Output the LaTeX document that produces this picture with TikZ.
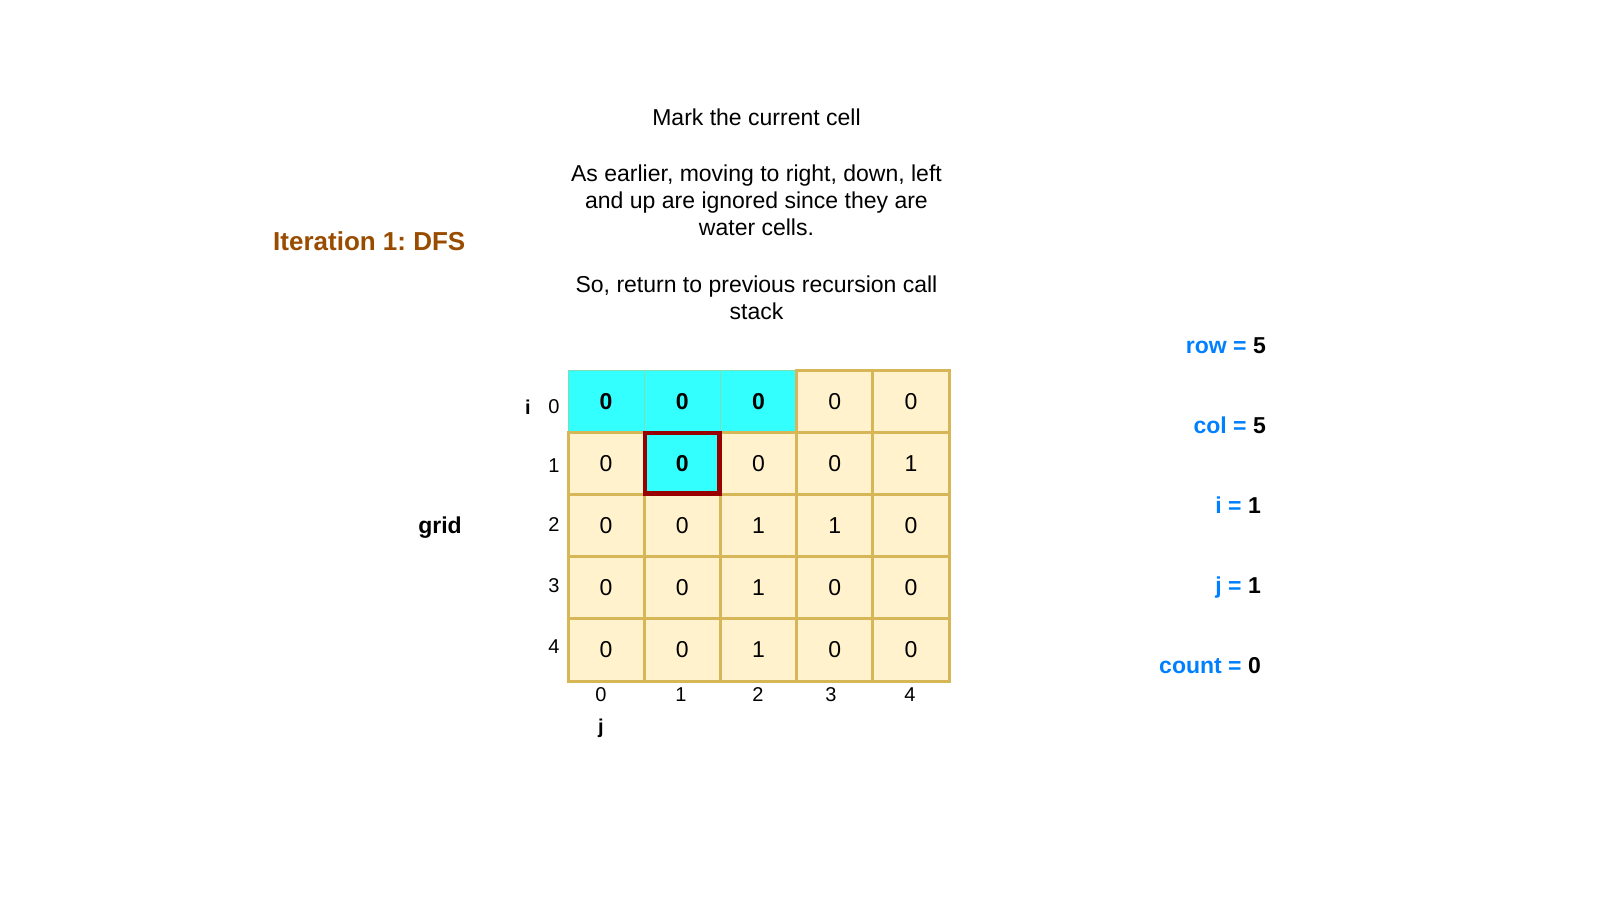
\documentclass[tikz,border=0pt]{standalone}
\usepackage{fontspec}
\setmainfont{Liberation Sans}
\frenchspacing
\definecolor{cellfill}{HTML}{FFF2CC}
\definecolor{cellline}{HTML}{D6B656}
\definecolor{visited}{HTML}{33FFFF}
\definecolor{current}{HTML}{990000}
\definecolor{varname}{HTML}{007FFF}
\definecolor{titlebrown}{HTML}{994C00}

\begin{document}
\begin{tikzpicture}[x=1pt,y=-1pt,
    cell/.style={draw=cellline,fill=cellfill,line width=3pt,minimum width=76.2pt,minimum height=62.2pt,inner sep=0pt,font=\fontsize{23}{27}\selectfont},
    seen/.style={cell,fill=visited,draw=cellline!45!visited,line width=1pt,font=\fontsize{23}{27}\selectfont\bfseries},
    idx/.style={inner sep=0pt,font=\fontsize{20}{24}\selectfont},
    var/.style={inner sep=0pt,anchor=base east,text=varname,font=\fontsize{23}{27}\selectfont\bfseries}]
  \useasboundingbox (0,0) rectangle (1600,900);
  \node[inner sep=0pt,anchor=base west,text=titlebrown,font=\fontsize{26}{30}\selectfont\bfseries] (title) at (273,250) {Iteration 1: DFS};
  \node[inner sep=0pt,anchor=north,align=center,font=\fontsize{23}{27}\selectfont] (note) at (756.5,108.5)
    {Mark the current cell\\[29.5pt]As earlier, moving to right, down, left\\and up are ignored since they are\\water cells.\\[29.5pt]So, return to previous recursion call\\stack};
  \foreach \r/\vals in {0/{0/seen,0/seen,0/seen,0/cell,0/cell},1/{0/cell,0/seen,0/cell,0/cell,1/cell},2/{0/cell,0/cell,1/cell,1/cell,0/cell},3/{0/cell,0/cell,1/cell,0/cell,0/cell},4/{0/cell,0/cell,1/cell,0/cell,0/cell}}
    \foreach \v/\k [count=\c from 0] in \vals
      \node[\k] (c-\r-\c) at ({568+76.2*(\c+0.5)},{370+62.2*(\r+0.5)}) {\v};
  \draw[current,line width=4.5pt] ([xshift=1.5pt,yshift=-1.5pt]c-1-1.north west) rectangle ([xshift=-1.5pt,yshift=1.5pt]c-1-1.south east);
  \foreach \r/\y in {0/407,1/466,2/525,3/586,4/647}
    \node[idx] (row-\r) at (554,\y) {\r};
  \foreach \c/\x in {0/601,1/681,2/758,3/831,4/910}
    \node[idx] (col-\c) at (\x,695) {\c};
  \node[idx,anchor=base,font=\fontsize{20}{24}\selectfont\bfseries] (ilabel) at (528,414) {i};
  \node[idx,anchor=base,font=\fontsize{20}{24}\selectfont\bfseries] (jlabel) at (601,733) {j};
  \node[inner sep=0pt,anchor=base,font=\fontsize{23}{27}\selectfont\bfseries] (gridname) at (440,533) {grid};
  \node[var] (rows) at (1266,353) {row = \textcolor{black}{5}};
  \node[var] (cols) at (1266,433) {col = \textcolor{black}{5}};
  \node[var] (ival) at (1261,513) {i = \textcolor{black}{1}};
  \node[var] (jval) at (1261,593) {j = \textcolor{black}{1}};
  \node[var] (count) at (1261,673) {count = \textcolor{black}{0}};
\end{tikzpicture}
\end{document}
